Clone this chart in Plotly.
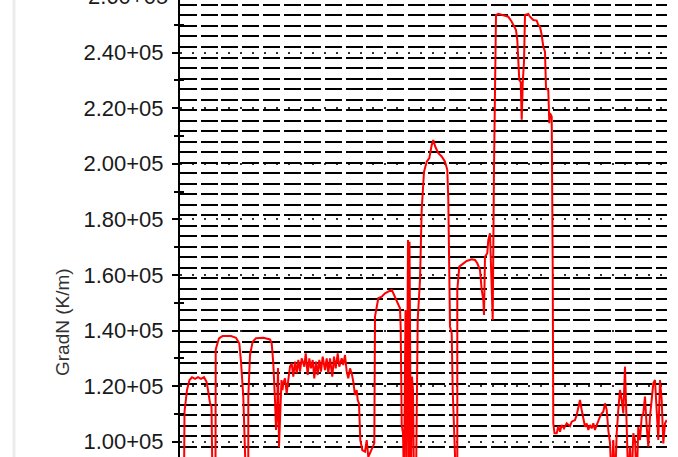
import plotly.graph_objects as go

# ---- data ----
x_vals = [4.0, 4.5, 7.0, 9.5, 12.0, 15.0, 18.0, 21.0, 24.0, 26.5, 28.0, 30.0, 31.5, 32.5,
          35.5, 35.7, 36.5, 39.0, 42.5, 51.0, 56.0, 59.3, 61.0, 63.3, 66.0,
          68.3, 68.3, 70.0, 72.7, 76.0, 83.3, 90.0, 91.7, 93.3, 95.0, 96.0, 97.0, 98.0, 99.0, 100.0, 101.5, 102.5,
          103.3, 105.0, 106.7, 108.3, 110.0, 111.7, 113.3, 115.0, 116.7, 118.3, 120.0, 121.7, 124.3, 125.7,
          127.7, 129.3, 131.0, 132.7, 134.3, 136.0, 137.7, 139.3, 141.0, 142.7, 145.0, 146.7, 148.3, 150.0,
          152.3, 154.0, 155.7, 157.7, 159.3, 161.7, 163.3, 165.0, 166.7, 168.3, 170.0, 171.7, 173.3, 175.0,
          176.7, 177.7, 179.0, 180.3, 182.3, 185.0, 186.7, 188.3, 191.7, 194.3,
          195.0, 198.3, 201.7, 205.0, 208.3, 211.7, 213.3, 216.0, 218.3, 220.0, 220.7, 221.7, 223.0, 224.0,
          225.5, 226.5, 228.0, 229.0, 229.5, 230.0, 231.0, 232.0, 233.0, 234.0, 236.0,
          237.7, 240.0, 241.7, 244.0, 246.7, 249.3, 251.7, 253.3, 255.3, 258.3, 261.7, 265.0, 267.3, 268.3,
          270.0, 271.7, 272.7, 274.0, 275.0, 276.0, 277.3, 277.3, 279.3, 281.7, 286.7, 291.7, 295.0, 297.3,
          300.0, 301.7, 303.3, 304.0, 305.0, 307.3, 308.3, 310.0, 311.7, 312.7, 314.0, 316.0, 318.3, 323.3,
          328.3, 331.7, 333.3, 336.0, 337.3, 339.3, 340.7, 341.7, 342.3, 342.7, 344.0, 345.0, 348.3, 350.0,
          353.3, 356.7, 358.3, 360.0, 361.7, 363.3, 365.0, 366.0, 368.3, 369.3, 370.0, 371.7, 372.7, 373.3,
          374.5, 376.7, 378.3, 380.0, 381.7, 384.0, 386.7, 390.0, 391.7, 395.0, 396.7, 398.3, 400.0, 401.7,
          403.3, 405.0, 406.7, 408.3, 410.0, 411.7, 413.3, 415.0, 416.7, 418.3, 420.0, 421.7, 423.3, 425.0,
          426.7, 428.3, 430.0, 431.7, 433.3, 435.0, 436.7, 438.3, 440.0, 441.7, 443.3, 445.0, 446.0, 447.3,
          448.3, 450.0, 451.7, 453.3, 455.0, 456.7, 458.3, 460.0, 461.7, 463.3, 465.0, 466.7, 468.3, 470.0,
          471.7, 473.3, 475.0, 476.7, 478.3, 480.0, 481.7, 483.3, 485.0, 486.7]

gradn_vals = [85000, 110800, 118600, 122200, 123200, 122600, 123200, 122600, 123200, 121600, 118600, 113900, 112600, 85000,
              85000, 133000, 134200, 137200, 138000, 138000, 137400, 135400, 128800, 116200, 85000,
              85000, 116200, 131200, 136000, 137200, 137400, 136800, 135400, 128200, 115000, 104200, 109600, 126500, 98100, 107800, 122200, 118600,
              121000, 122800, 117400, 122200, 127000, 128200, 123400, 128800, 124600, 129400, 125200, 130000, 127000, 131800,
              124000, 130000, 126400, 129400, 122800, 128800, 124000, 129400, 125200, 130600, 125800, 130000, 124600, 130000,
              123400, 130600, 126400, 131800, 127000, 130000, 127600, 131200, 125200, 122800, 126400, 124600, 121600, 116800,
              118600, 115000, 113800, 100600, 97000, 96400, 100600, 94500, 97600, 99400,
              145000, 151600, 152200, 153400, 154000, 154600, 153400, 151000, 149200, 148000, 140800, 106000, 103000, 85000,
              147400, 85000, 172600, 85000, 171900, 122200, 85000, 123400, 118600, 85000, 85000,
              143800, 158200, 183400, 197100, 200700, 202000, 206700, 208500, 206100, 203800, 202600, 200700, 197800, 187000,
              141400, 139000, 118600, 106000, 103000, 85000, 85000, 154600, 163000, 163600, 165000, 165600, 165400, 164200,
              161800, 154600, 151000, 145600, 166600, 167800, 172600, 175000, 153400, 143800, 198400, 253500, 253900, 253500,
              252900, 251100, 249900, 248100, 244500, 230100, 229400, 215800, 223000, 229000, 236700, 253500, 253900, 252900,
              251700, 251500, 249900, 249300, 246300, 242100, 240300, 227100, 226500, 214600, 218200, 217000, 163000, 106600,
              103000, 103000, 105600, 103600, 106000, 104800, 106600, 105600, 107200, 107800, 109600, 112000, 115000, 111400,
              107800, 105400, 106600, 104200, 106000, 104800, 106600, 104200, 106000, 107800, 109000, 110200, 110800, 113800,
              111400, 104200, 99500, 85000, 100600, 85000, 103000, 111400, 118600, 115000, 110200, 127000, 115000, 101800,
              85000, 98200, 85000, 103000, 100600, 85000, 105400, 100600, 109000, 110200, 116200, 105400, 98200, 109000,
              115000, 121000, 122200, 111400, 100600, 122200, 115000, 99400, 106600, 107800]

major_ticks = [100000, 120000, 140000, 160000, 180000, 200000, 220000, 240000, 260000]
tick_labels = ["1.00+05", "1.20+05", "1.40+05", "1.60+05", "1.80+05",
               "2.00+05", "2.20+05", "2.40+05", "2.60+05"]
minor_ticks = [90000, 110000, 130000, 150000, 170000, 190000, 210000, 230000, 250000]

y_range = [94500, 258900]
x_range = [0, 487]
dash_grid_start = 98200
dash_grid_step = 3784

tick_font = dict(family="Liberation Sans, Arial, sans-serif", size=22, color="#1a1a1a")

fig = go.Figure()
fig.add_trace(go.Scatter(x=[], y=[], yaxis="y2", showlegend=False, hoverinfo="skip"))
fig.add_trace(go.Scatter(x=[], y=[], yaxis="y3", showlegend=False, hoverinfo="skip"))
fig.add_trace(go.Scatter(x=x_vals, y=gradn_vals, mode="lines",
                         line=dict(color="#ff0000", width=2), showlegend=False))

fig.update_layout(
    width=678, height=457,
    margin=dict(l=180, r=11, t=0, b=0, pad=0),
    paper_bgcolor="white", plot_bgcolor="white",
    showlegend=False,
    xaxis=dict(range=x_range, visible=False, showgrid=False, zeroline=False),
    yaxis=dict(range=y_range, tickvals=major_ticks, ticktext=tick_labels,
               ticks="outside", ticklen=6, tickwidth=1.5, tickcolor="black",
               ticklabelstandoff=4,
               showline=True, linecolor="black", linewidth=2,
               showgrid=True, gridcolor="#333333", griddash="2px,10px", gridwidth=1.5,
               zeroline=False, tickfont=tick_font, automargin=False,
               minor=dict(tickvals=minor_ticks, ticks="outside", ticklen=4,
                          tickwidth=1.5, tickcolor="black", showgrid=False)),
    yaxis2=dict(range=y_range, overlaying="y", side="left", anchor="x",
                tick0=dash_grid_start, dtick=dash_grid_step,
                showgrid=True, gridcolor="black", griddash="17px,3.7px", gridwidth=1.6,
                showticklabels=False, ticks="", showline=False, zeroline=False,
                automargin=False),
    yaxis3=dict(range=y_range, overlaying="y", side="left", anchor="x",
                tickvals=minor_ticks, ticks="inside", ticklen=4, tickwidth=1.5,
                tickcolor="black", showticklabels=False, showgrid=False,
                showline=False, zeroline=False, automargin=False),
    annotations=[
        dict(text=tick_labels[-1], x=0, xref="paper", xanchor="right", xshift=-10,
             y=1.0066, yref="paper", yanchor="middle", showarrow=False, font=tick_font),
        dict(text="GradN (K/m)", x=-0.2423, xref="paper", y=0.2954, yref="paper",
             textangle=-90, showarrow=False, xanchor="center", yanchor="middle",
             font=dict(family="Liberation Sans, Arial, sans-serif", size=19, color="#333333")),
    ],
    shapes=[dict(type="line", xref="paper", yref="paper", x0=-0.3409, x1=-0.3409, y0=0, y1=1,
                 line=dict(color="#ececec", width=3))],
)

fig.write_html("out.html", config={"displayModeBar": False},
               post_script="document.body.style.margin='0';document.body.style.overflow='hidden';")
